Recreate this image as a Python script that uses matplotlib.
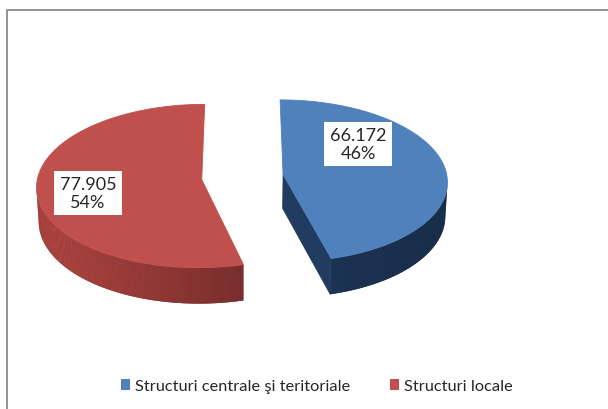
import numpy as np
import matplotlib
matplotlib.use("Agg")
import matplotlib.pyplot as plt
from matplotlib.patches import Polygon, Patch

plt.rcParams['font.family'] = ['Lato', 'DejaVu Sans']

# date
labels = ["Structuri centrale şi teritoriale", "Structuri locale"]
values = [66.172, 77.905]
top_colors = [(79, 129, 189), (192, 80, 77)]
side_light = [(34, 60, 96), (182, 72, 68)]
side_dark = [(24, 44, 72), (82, 30, 30)]
label_pos = [(358, 145), (88, 194)]

# camera for the tilted pie
PHI = np.radians(29.5)
DIST = 11.1
SCALE = 164.0
CX, CY = 242.5, 178.0
THICK = 0.241
EXPLODE = 0.25
CAM = np.array([0.0, -DIST * np.cos(PHI), DIST * np.sin(PHI)])


def project(x, y, z):
    d = DIST + y * np.cos(PHI) - z * np.sin(PHI)
    sx = CX + SCALE * DIST * x / d
    sy = CY - SCALE * DIST * (y * np.sin(PHI) + z * np.cos(PHI)) / d
    return sx, sy


def rgb(c):
    return tuple(v / 255 for v in c)


def lerp(a, b, t):
    return tuple(a[i] + (b[i] - a[i]) * t for i in range(3))


fig = plt.figure(figsize=(6.08, 4.10), dpi=100)
ax = fig.add_axes([0, 0, 1, 1])
ax.set_xlim(0, 608)
ax.set_ylim(410, 0)
ax.axis('off')

total = sum(values)
start = 90.0
for i, v in enumerate(values):
    sweep = 360.0 * v / total
    t0, t1 = np.radians(start), np.radians(start - sweep)
    mid = (t0 + t1) / 2
    ox, oy = EXPLODE * np.cos(mid), EXPLODE * np.sin(mid)
    th = np.linspace(t0, t1, 240)
    rx, ry = ox + np.cos(th), oy + np.sin(th)

    strips = []
    # outer wall, only the segments turned to the camera
    wall_top, wall_bot = [], []
    for j in range(len(th) - 1):
        tm = (th[j] + th[j + 1]) / 2
        px, py = ox + np.cos(tm), oy + np.sin(tm)
        vis = -(px - CAM[0]) * np.cos(tm) - (py - CAM[1]) * np.sin(tm)
        if vis <= 0:
            continue
        t = (np.cos(tm) + 1) / 2
        col = rgb(lerp(side_light[i], side_dark[i], t))
        pts = [project(rx[j], ry[j], 0), project(rx[j + 1], ry[j + 1], 0),
               project(rx[j + 1], ry[j + 1], -THICK), project(rx[j], ry[j], -THICK)]
        wall_top += pts[:2]
        wall_bot += pts[2:][::-1]
        strips.append((pts, col))

    # solid underlay so the gradient strips leave no seams
    if wall_top:
        under = rgb(lerp(side_light[i], side_dark[i], 0.5))
        ax.add_patch(Polygon(wall_top + wall_bot[::-1], closed=True,
                             facecolor=under, edgecolor='none'))
    for pts, col in strips:
        ax.add_patch(Polygon(pts, closed=True, facecolor=col, edgecolor='none'))

    # cut faces (skip the ones seen almost edge-on)
    for te in (t0, t1):
        n = np.array([-np.sin(te), np.cos(te)])
        if n @ np.array([np.cos(mid), np.sin(mid)]) > 0:
            n = -n
        vis = n @ (CAM[:2] - np.array([ox, oy]))
        if vis <= 1.0:
            continue
        ex, ey = ox + np.cos(te), oy + np.sin(te)
        pts = [project(ox, oy, 0), project(ex, ey, 0),
               project(ex, ey, -THICK), project(ox, oy, -THICK)]
        t = (np.cos(np.arctan2(n[1], n[0])) + 1) / 2
        col = rgb(lerp(side_light[i], side_dark[i], t))
        ax.add_patch(Polygon(pts, closed=True, facecolor=col, edgecolor=col,
                             linewidth=0.5))

    top = [project(ox, oy, 0)] + [project(a, b, 0) for a, b in zip(rx, ry)]
    ax.add_patch(Polygon(top, closed=True, facecolor=rgb(top_colors[i]),
                         edgecolor=rgb(top_colors[i]), linewidth=0.6))

    pct = round(100 * v / total)
    lx, ly = label_pos[i]
    ax.text(lx, ly, f"{v:.3f}\n{pct}%", ha='center', va='center',
            fontsize=13, color='#262626', linespacing=1.15,
            bbox=dict(boxstyle='square,pad=0.3', facecolor='white',
                      edgecolor='none'))
    start -= sweep

# chart area border (top and left edges)
ax.plot([7, 7, 608], [410, 11, 11], color='#8a8a8a', lw=1.3,
        solid_capstyle='butt')

handles = [Patch(facecolor=rgb(c), edgecolor='none') for c in top_colors]
fig.legend(handles, labels, loc='center', bbox_to_anchor=(0.521, 0.055),
           ncol=2, frameon=False, fontsize=11.8, handlelength=0.55,
           handleheight=0.6, handletextpad=0.3, columnspacing=2.4,
           labelcolor='#262626')

fig.savefig("out.png", dpi=100, facecolor='white')
